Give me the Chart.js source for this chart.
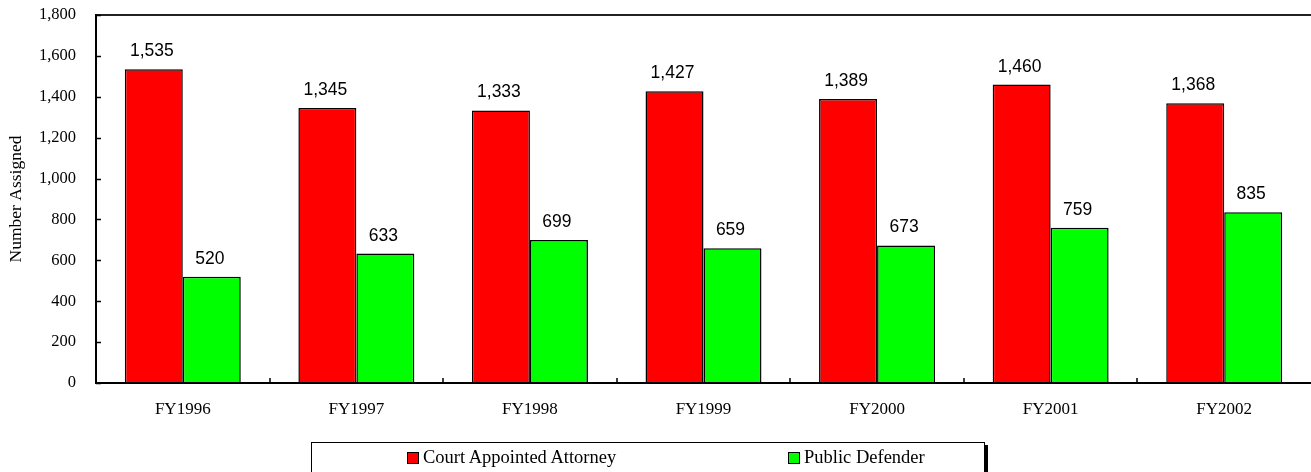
<!DOCTYPE html>
<html>
<head>
<meta charset="utf-8">
<script src="https://cdn.jsdelivr.net/npm/chart.js@4"></script>
<style>
  body { margin: 0; background: #fff; }
  #wrap { position: relative; width: 1311px; height: 472px; overflow: hidden; }
  #legend {
    position: absolute; left: 311px; top: 442px; width: 672px; height: 40px;
    border: 1.5px solid #000; box-shadow: 3px 3px 0 #000; background: #fff;
    font-family: "Liberation Serif", "Times New Roman", serif; font-size: 18.5px; color: #000;
  }
  .item { position: absolute; top: 4px; white-space: nowrap; line-height: 20px; }
  .sw { display: inline-block; width: 10px; height: 10px; border: 1px solid #000; margin-right: 4px; vertical-align: -1px; }
</style>
</head>
<body>
<div id="wrap">
  <canvas id="chart" width="1311" height="472"></canvas>
  <div id="legend"></div>
</div>
<script>
const years = ["FY1996", "FY1997", "FY1998", "FY1999", "FY2000", "FY2001", "FY2002"];
const courtAppointed = [1535, 1345, 1333, 1427, 1389, 1460, 1368];
const publicDefender = [520, 633, 699, 659, 673, 759, 835];
const seriesNames = ["Court Appointed Attorney", "Public Defender"];
const seriesColors = ["#ff0000", "#00ff00"];

const fmt = v => v.toLocaleString("en-US");

// frame, inner ticks and value labels
const extras = {
  id: "extras",
  afterDatasetsDraw(chart) {
    const ctx = chart.ctx;
    ctx.save();
    ctx.fillStyle = "#000";
    ctx.font = "17.5px 'Liberation Sans', Arial, sans-serif";
    ctx.textAlign = "center";
    ctx.textBaseline = "alphabetic";
    chart.data.datasets.forEach((ds, i) => {
      chart.getDatasetMeta(i).data.forEach((bar, j) => {
        ctx.fillText(fmt(ds.data[j]), bar.x - 2, bar.y - 13);
      });
    });
    ctx.restore();
  },
  afterDraw(chart) {
    const ctx = chart.ctx;
    const a = chart.chartArea;
    const x = chart.scales.x, y = chart.scales.y;
    ctx.save();
    ctx.strokeStyle = "#222";
    ctx.lineWidth = 2;
    ctx.beginPath();
    ctx.moveTo(a.left, a.top);
    ctx.lineTo(chart.width, a.top);
    ctx.stroke();
    ctx.strokeStyle = "#000";
    ctx.beginPath();
    ctx.moveTo(a.left, a.top - 1);
    ctx.lineTo(a.left, a.bottom);
    ctx.lineTo(chart.width, a.bottom);
    ctx.stroke();
    ctx.lineWidth = 1.5;
    ctx.beginPath();
    y.ticks.forEach(t => {
      const py = Math.round(y.getPixelForValue(t.value)) + 0.5;
      ctx.moveTo(a.left, py);
      ctx.lineTo(a.left + 5, py);
    });
    for (let i = 1; i < years.length; i++) {
      const px = Math.round((x.getPixelForValue(i - 1) + x.getPixelForValue(i)) / 2);
      ctx.moveTo(px, a.bottom);
      ctx.lineTo(px, a.bottom - 5);
    }
    ctx.stroke();
    ctx.restore();
  }
};

new Chart(document.getElementById("chart"), {
  type: "bar",
  data: {
    labels: years,
    datasets: [
      { label: seriesNames[0], data: courtAppointed, backgroundColor: seriesColors[0], borderColor: "#000", borderWidth: 1.5 },
      { label: seriesNames[1], data: publicDefender, backgroundColor: seriesColors[1], borderColor: "#000", borderWidth: 1.5 }
    ]
  },
  options: {
    responsive: false,
    animation: false,
    layout: { padding: { top: 15, right: 0, left: 0, bottom: 0 } },
    categoryPercentage: 0.668,
    barPercentage: 1,
    plugins: { legend: { display: false }, tooltip: { enabled: false } },
    scales: {
      x: {
        grid: { display: false },
        border: { display: false },
        ticks: { color: "#000", padding: 8, maxRotation: 0, font: { family: "'Liberation Serif', 'Times New Roman', serif", size: 17 } },
        afterFit: s => { s.height = 89; s.paddingLeft = 0; s.paddingRight = 0; }
      },
      y: {
        min: 0, max: 1800,
        grid: { display: false },
        border: { display: false },
        ticks: { stepSize: 200, color: "#000", padding: 12, callback: v => fmt(v), font: { family: "'Liberation Serif', 'Times New Roman', serif", size: 16.5 } },
        title: { display: true, text: "Number Assigned", color: "#000", padding: { top: 6, bottom: 0 }, font: { family: "'Liberation Serif', 'Times New Roman', serif", size: 17.5 } },
        afterFit: s => { s.width = 96; s.paddingTop = 0; s.paddingBottom = 0; }
      }
    }
  },
  plugins: [extras]
});

// legend
const legend = document.getElementById("legend");
const itemLeft = [95, 476];
seriesNames.forEach((name, i) => {
  const d = document.createElement("div");
  d.className = "item";
  d.style.left = itemLeft[i] + "px";
  d.innerHTML = '<span class="sw" style="background:' + seriesColors[i] + '"></span>' + name;
  legend.appendChild(d);
});
</script>
</body>
</html>
